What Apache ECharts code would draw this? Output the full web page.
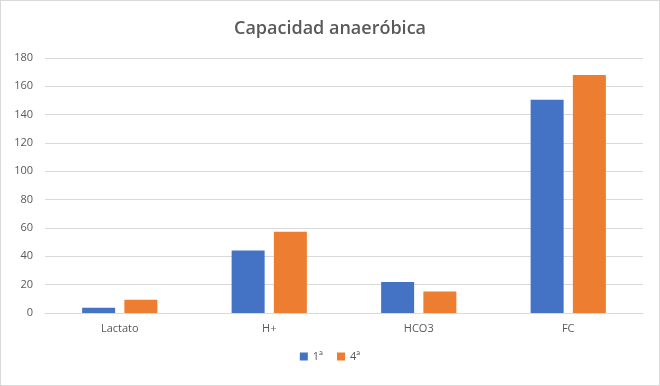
<!DOCTYPE html>
<html><head><meta charset="utf-8">
<script src="https://cdn.jsdelivr.net/npm/echarts@6/dist/echarts.min.js"></script>
<style>html,body{margin:0;padding:0;background:#fff}#c{width:660px;height:386px;box-sizing:border-box;border:1px solid #d9d9d9}</style>
</head><body><div id="c"></div>
<script>
const categories = ['Lactato', 'H+', 'HCO3', 'FC'];
const seriesNames = ['1ª', '4ª'];
const values1 = [3.7, 44.2, 21.9, 150.6];
const values4 = [9.4, 57.3, 15.2, 168];
const yTicks = {min: 0, max: 180, interval: 20};

const chart = echarts.init(document.getElementById('c'), null, {renderer: 'canvas'});
const txt = '#595959';
chart.setOption({
  animation: false,
  title: {text: 'Capacidad anaeróbica', left: 'center', top: 14,
    textStyle: {fontFamily: 'Open Sans', fontSize: 18, fontWeight: 600, color: txt}},
  legend: {bottom: 18, left: 'center', itemWidth: 8, itemHeight: 8, itemGap: 14,
    textStyle: {fontFamily: 'Open Sans', fontSize: 11, color: txt},
    data: seriesNames.map(n => ({name: n, icon: 'rect'}))},
  grid: {left: 44, right: 16, top: 57, bottom: 72, containLabel: false},
  xAxis: {type: 'category', data: categories,
    axisLine: {lineStyle: {color: '#d9d9d9'}}, axisTick: {show: false},
    axisLabel: {fontFamily: 'Open Sans', fontSize: 11, color: txt, margin: 10}},
  yAxis: {type: 'value', min: yTicks.min, max: yTicks.max, interval: yTicks.interval,
    axisLine: {show: false}, axisTick: {show: false},
    splitLine: {lineStyle: {color: '#d9d9d9'}},
    axisLabel: {fontFamily: 'Open Sans', fontSize: 11, color: txt, margin: 12}},
  series: [
    {name: seriesNames[0], type: 'bar', data: values1, barWidth: 33, barGap: '28%',
     itemStyle: {color: '#4472C4'}},
    {name: seriesNames[1], type: 'bar', data: values4, barWidth: 33,
     itemStyle: {color: '#ED7D31'}}
  ]
});
</script></body></html>
